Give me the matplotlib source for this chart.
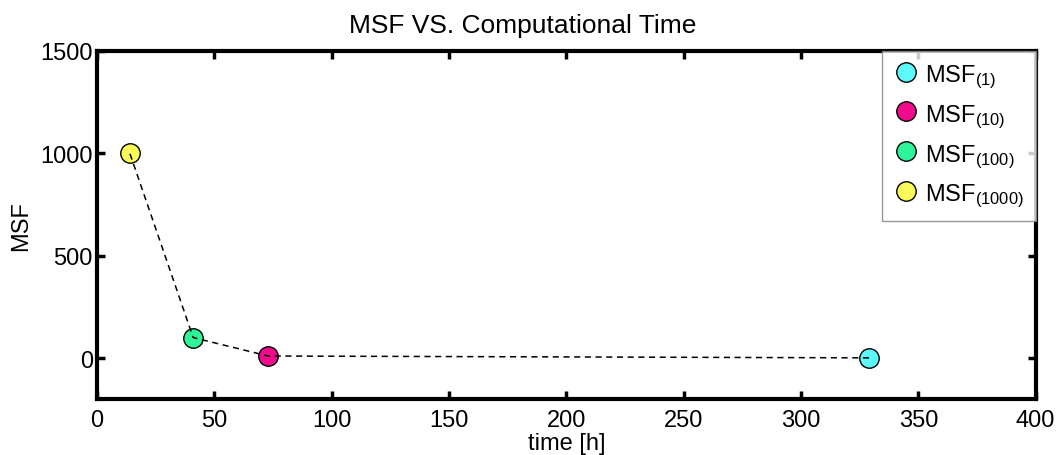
import matplotlib
matplotlib.use("Agg")
import matplotlib.pyplot as plt

labels = ["MSF$_{(1)}$", "MSF$_{(10)}$", "MSF$_{(100)}$", "MSF$_{(1000)}$"]
times = [329, 73, 41, 14]
msf = [1, 10, 100, 1000]
colors = ["#5ef9fb", "#f20a8c", "#2ef59a", "#fafa5a"]

plt.rcParams['font.family'] = ['Liberation Sans', 'DejaVu Sans']
plt.rcParams['mathtext.fontset'] = 'custom'
plt.rcParams['mathtext.rm'] = 'Liberation Sans'
plt.rcParams['mathtext.it'] = 'Liberation Sans'

fig = plt.figure(figsize=(10.6, 4.56), dpi=100)
ax = fig.add_axes([0.0915, 0.1228, 0.8855, 0.7632])

for t, m, c, lab in zip(times, msf, colors, labels):
    ax.plot([t], [m], 'o', ms=14, mfc=c, mec='black', mew=1.0, label=lab, zorder=2)
ax.plot(times, msf, '--', color='black', lw=1.1, dashes=(4, 3), zorder=3)

ax.set_xlim(0, 400)
ax.set_ylim(-200, 1500)
ax.set_xticks(range(0, 401, 50))
ax.set_yticks([0, 500, 1000, 1500])
ax.tick_params(direction='in', top=True, right=True, length=6, width=2.5,
               labelsize=17)
ax.tick_params(axis='x', pad=7)
ax.tick_params(axis='y', pad=3)
for s in ax.spines.values():
    s.set_linewidth(3)
ax.set_xlabel("time [h]", fontsize=17, labelpad=1)
ax.set_ylabel("MSF", fontsize=17, labelpad=6)
ax.set_title("MSF VS. Computational Time", fontsize=19, pad=14, x=0.4537)

leg = ax.legend(loc='upper right', borderaxespad=0, fontsize=17, frameon=True,
                fancybox=False, edgecolor='#808080', handletextpad=0.25,
                handlelength=1.1, labelspacing=0.52, borderpad=0.48,
                handleheight=1.0)
leg.get_frame().set_linewidth(1.0)

fig.savefig("out.png", dpi=100)
